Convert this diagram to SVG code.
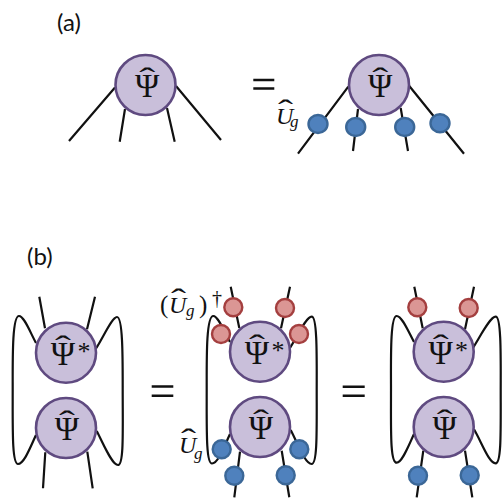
<svg xmlns="http://www.w3.org/2000/svg" width="503" height="498" viewBox="0 0 503 498">
<style>
.w{fill:none;stroke:#111;stroke-width:2.2;stroke-linecap:butt}
.p{fill:#C9BFDA;stroke:#5F4A80;stroke-width:2.6}
.b{fill:#4F81BD;stroke:#3B6797;stroke-width:2.4}
.r{fill:#DB9694;stroke:#A43F3F;stroke-width:2.4}
.e{stroke:#111;stroke-width:2.6;fill:none}
.l{font-family:"Lato","Liberation Sans",sans-serif;font-size:24px;fill:#111}
.s{font-family:"Liberation Serif",serif;fill:#111}
.psi{font-size:33px;text-anchor:middle}
.hat{font-size:30px;text-anchor:middle}
.st{font-size:26px}
.u{font-size:24px;font-style:italic}
.g{font-size:17px;font-style:italic}
.par{font-size:25px}
</style>
<g id="connectors">
<path class="w" d="M115,87.5L69,141M125,109L119.7,141.7M167,108L174.7,141.7M176,86L221,140"/>
<path class="w" d="M348.3,86.7L298,153.7M358,109L353,151M400.7,108L408,151M409.3,86L464,153.7"/>
<path class="w" d="M36,343C30,332 24,316 19,316C12,316 12.7,360 12.7,390C12.7,430 12,464 18,464C24,464 30,448 36,435"/>
<path class="w" d="M95.7,349C103,338 112,317 117,317C123,317 122.7,360 122.7,390C122.7,430 124,465 118,465C112,465 104,445 96.7,431"/>
<path class="w" d="M39.3,296.7L45,328.3M95,296.7L87,329.3M45.3,452.3L43,488.3M87.3,451.7L92.7,488.3"/>
<path class="w" d="M230,342C224,331 218,316 213.3,316C206,316 206.7,360 206.7,390C206.7,430 206,463.500 212,463.500C218,463.500 224,447 230,434"/>
<path class="w" d="M290,348C297,337 306,316.700 311.700,316.700C317.500,316.700 316.700,360 316.700,390C316.700,430 317.500,464 311.700,464C305,464 298,444 290.700,430"/>
<path class="w" d="M230.700,286.700L239.300,328M290,286.700L281,328.300M240,451.700L234.300,497.300M281.700,450.700L289.300,497.300"/>
<path class="w" d="M414,342C408,331 402,316 396.700,316C390,316 391,360 391,390C391,430 390,462.700 396.700,462.700C402,462.700 408,447 414,434"/>
<path class="w" d="M472.700,348.300C480,337 490,316.700 495.700,316.700C501.500,316.700 500.700,360 500.700,390C500.700,430 501.500,463.300 495.700,463.300C489,463.300 482,443 474,429.300"/>
<path class="w" d="M414.300,286.700L422.700,328.300M474,286.700L465,329.300M423.300,450.700L416.700,497.300M465,450.700L472.300,497.300"/>
</g>
<g id="label-a"><text class="l" x="57" y="31">(a)</text></g>
<g id="label-b"><text class="l" x="27" y="265">(b)</text></g>
<g id="psi-a1"><circle class="p" cx="145.500" cy="85" r="30"/><text class="s psi" x="147.300" y="97">Ψ</text><text class="s hat" transform="translate(147.300,88) scale(1.6,1)">ˆ</text></g>
<g id="psi-a2"><circle class="p" cx="379" cy="85" r="30"/><text class="s psi" x="380.300" y="97">Ψ</text><text class="s hat" transform="translate(380.300,88) scale(1.6,1)">ˆ</text></g>
<g id="eq-a"><path class="e" d="M253.300,80H274.300M253.300,88.500H274.300"/></g>
<g id="u-a1"><ellipse class="b" cx="318" cy="124" rx="9.500" ry="9"/></g>
<g id="u-a2"><ellipse class="b" cx="355.700" cy="127" rx="9.500" ry="9"/></g>
<g id="u-a3"><ellipse class="b" cx="404.700" cy="127" rx="9.500" ry="9"/></g>
<g id="u-a4"><ellipse class="b" cx="440" cy="123.300" rx="9.500" ry="9"/></g>
<g id="label-ug-a"><text class="s u" x="276" y="124">U</text><text class="s hat" transform="translate(285.500,120) scale(1.5,1)">ˆ</text><text class="s g" x="290" y="127">g</text></g>
<g id="psi-star-b1"><circle class="p" cx="66" cy="352.700" r="30"/><text class="s psi" x="63" y="365">Ψ</text><text class="s hat" transform="translate(63,356) scale(1.6,1)">ˆ</text><text class="s st" x="77.500" y="360">*</text></g>
<g id="psi-b1"><circle class="p" cx="66" cy="428" r="30"/><text class="s psi" x="67" y="440">Ψ</text><text class="s hat" transform="translate(67,431) scale(1.6,1)">ˆ</text></g>
<g id="eq-b1"><path class="e" d="M151.700,386.500H173.300M151.700,395.700H173.300"/></g>
<g id="psi-star-b2"><circle class="p" cx="260" cy="351.700" r="30"/><text class="s psi" x="257" y="364">Ψ</text><text class="s hat" transform="translate(257,355) scale(1.6,1)">ˆ</text><text class="s st" x="271.500" y="359">*</text></g>
<g id="psi-b2"><circle class="p" cx="260" cy="427" r="30"/><text class="s psi" x="261" y="439">Ψ</text><text class="s hat" transform="translate(261,430) scale(1.6,1)">ˆ</text></g>
<g id="ud-1"><circle class="r" cx="233.300" cy="307.300" r="9"/></g>
<g id="ud-2"><circle class="r" cx="221" cy="334" r="9"/></g>
<g id="ud-3"><circle class="r" cx="285" cy="308" r="9"/></g>
<g id="ud-4"><circle class="r" cx="299" cy="334" r="9"/></g>
<g id="u-b1"><circle class="b" cx="221.700" cy="449.300" r="9"/></g>
<g id="u-b2"><circle class="b" cx="234.300" cy="475.700" r="9"/></g>
<g id="u-b3"><circle class="b" cx="299.300" cy="449.300" r="9"/></g>
<g id="u-b4"><circle class="b" cx="285.700" cy="475.300" r="9"/></g>
<g id="label-ud"><text class="s par" x="160" y="313">(</text><text class="s u" x="169" y="313">U</text><text class="s hat" transform="translate(178.500,309) scale(1.5,1)">ˆ</text><text class="s g" x="186" y="316">g</text><text class="s par" x="199" y="313">)</text><text class="s" x="212" y="305" font-size="20">†</text></g>
<g id="label-ug-b"><text class="s u" x="179" y="453">U</text><text class="s hat" transform="translate(188.500,449) scale(1.5,1)">ˆ</text><text class="s g" x="194" y="459">g</text></g>
<g id="eq-b2"><path class="e" d="M342.700,386.700H364.700M342.700,395.700H364.700"/></g>
<g id="psi-star-b3"><circle class="p" cx="443.700" cy="351.700" r="30"/><text class="s psi" x="440.700" y="364">Ψ</text><text class="s hat" transform="translate(440.700,355) scale(1.6,1)">ˆ</text><text class="s st" x="455" y="359">*</text></g>
<g id="psi-b3"><circle class="p" cx="443.700" cy="427" r="30"/><text class="s psi" x="444.700" y="439">Ψ</text><text class="s hat" transform="translate(444.700,430) scale(1.6,1)">ˆ</text></g>
<g id="ud-5"><circle class="r" cx="417.300" cy="307.300" r="9"/></g>
<g id="ud-6"><circle class="r" cx="468.700" cy="308" r="9"/></g>
<g id="u-b5"><circle class="b" cx="418" cy="475.700" r="9"/></g>
<g id="u-b6"><circle class="b" cx="469.700" cy="475.300" r="9"/></g>
</svg>
